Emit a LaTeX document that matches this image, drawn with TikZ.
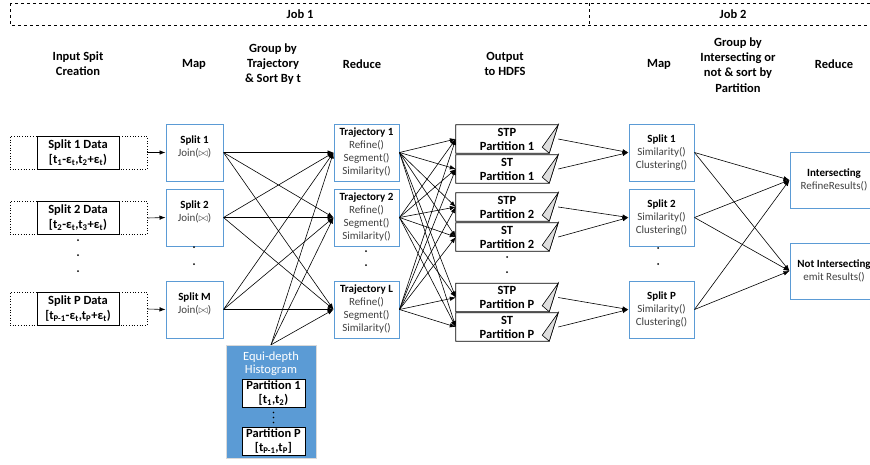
\documentclass[tikz,border=0pt]{standalone}
\usepackage{fontspec}
\setmainfont{Carlito}
\usetikzlibrary{arrows.meta,positioning,calc}

\definecolor{boxblue}{RGB}{91,155,213}
\definecolor{histblue}{RGB}{91,155,213}
\definecolor{txtgray}{RGB}{64,64,64}

\newcommand{\boxtitle}[1]{{\color{black}\bfseries #1}}

\tikzset{
  every node/.style={font=\fontsize{11}{13}\selectfont},
  head/.style={font=\fontsize{12.5}{15.3}\selectfont\bfseries, align=center},
  bluebox/.style={draw=boxblue, line width=1pt, minimum height=57pt, align=center, text=txtgray, inner sep=1pt},
  splitbox/.style={draw, line width=0.7pt, minimum width=82pt, minimum height=33pt, align=center,
    font=\fontsize{12.5}{15}\selectfont\bfseries, inner sep=0pt},
  outerbox/.style={draw, dotted, line width=0.7pt, minimum width=137pt, minimum height=33pt},
  filebox/.style={minimum width=102pt, minimum height=28pt, align=center, inner sep=0pt,
    font=\fontsize{12.5}{14}\selectfont\bfseries},
  partbox/.style={draw, fill=white, minimum width=63pt, minimum height=28pt, align=center, inner sep=0pt,
    font=\fontsize{12.5}{14}\selectfont\bfseries},
  arr/.style={-{Latex[length=6pt,width=4.5pt]}, line width=0.6pt},
}

\begin{document}
\begin{tikzpicture}[x=1pt,y=-1pt]
\useasboundingbox (0,0) rectangle (870,464);

% job header
\draw[dashed, line width=0.6pt] (10,3) rectangle (880,25);
\draw[dashed, line width=0.6pt] (589,3) -- (589,25);
\node[head] (job1) at (300,14) {Job 1};
\node[head] (job2) at (733,14) {Job 2};

% column titles
\node[head] (hInput) at (78,64) {Input Spit\\Creation};
\node[head] (hMap1) at (194,64) {Map};
\node[head] (hGroup1) at (273,64) {Group by\\Trajectory\\\& Sort By t};
\node[head] (hRed1) at (362,64) {Reduce};
\node[head] (hOut) at (505,64) {Output\\to HDFS};
\node[head] (hMap2) at (659,64) {Map};
\node[head] (hGroup2) at (738,65) {Group by\\Intersecting or\\not \& sort by\\Partition};
\node[head] (hRed2) at (834,64) {Reduce};

% input splits
\node[outerbox] (o1) at (78.5,152.5) {};
\node[outerbox] (o2) at (78.5,218) {};
\node[outerbox] (oP) at (78.5,309) {};
\node[splitbox] (s1) at (78,152.5) {Split 1 Data\\{[t\textsubscript{1}-ε\textsubscript{t},t\textsubscript{2}+ε\textsubscript{t})}};
\node[splitbox] (s2) at (78,218) {Split 2 Data\\{[t\textsubscript{2}-ε\textsubscript{t},t\textsubscript{3}+ε\textsubscript{t})}};
\node[splitbox] (sP) at (78,309) {Split P Data\\{[t\textsubscript{P-1}-ε\textsubscript{t},t\textsubscript{P}+ε\textsubscript{t})}};
\foreach \y in {240,255,271} \fill (78,\y) circle (1);

% job 1 map
\node[bluebox, minimum width=57pt] (m1) at (194.5,152.5) {\boxtitle{Split 1}\\Join($\bowtie$)\\\mbox{}};
\node[bluebox, minimum width=57pt] (m2) at (194.5,217.5) {\boxtitle{Split 2}\\Join($\bowtie$)\\\mbox{}};
\node[bluebox, minimum width=57pt] (mM) at (194.5,309.5) {\boxtitle{Split M}\\Join($\bowtie$)\\\mbox{}};
\foreach \y in {247,264} \fill (194,\y) circle (1);

% job 1 reduce
\node[bluebox, minimum width=65pt] (r1) at (366.5,152.5) {\boxtitle{Trajectory 1}\\Refine()\\Segment()\\Similarity()};
\node[bluebox, minimum width=65pt] (r2) at (366.5,217.5) {\boxtitle{Trajectory 2}\\Refine()\\Segment()\\Similarity()};
\node[bluebox, minimum width=65pt] (rL) at (366.5,309.5) {\boxtitle{Trajectory L}\\Refine()\\Segment()\\Similarity()};
\foreach \y in {251,265} \fill (366,\y) circle (1);

% histogram
\node[fill=histblue, draw=gray!30, minimum width=90pt, minimum height=113pt] (hist) at (271,401.5) {};
\node[text=white, align=center, font=\fontsize{12.5}{13}\selectfont] (histlbl) at (271,363.5) {Equi-depth\\Histogram};
\node[partbox] (p1) at (273.5,393) {Partition 1\\{[t\textsubscript{1},t\textsubscript{2})}};
\node[partbox] (pP) at (273.5,441.5) {Partition P\\{[t\textsubscript{P-1},t\textsubscript{P}]}};
\foreach \y in {412.5,417.5,422.5} \fill (273.5,\y) circle (0.9);

% output files
\node[filebox] (stp1) at (507,139) {STP\\Partition 1};
\node[filebox] (st1) at (507,169) {ST\\Partition 1};
\node[filebox] (stp2) at (507,207) {STP\\Partition 2};
\node[filebox] (st2) at (507,237) {ST\\Partition 2};
\node[filebox] (stpP) at (507,297.5) {STP\\Partition P};
\node[filebox] (stP) at (507,327) {ST\\Partition P};
\foreach \f in {stp1,st1,stp2,st2,stpP,stP} {
  \draw[line width=0.7pt] (\f.north west) -- (\f.north east) -- ([xshift=-9pt]\f.south east) -- (\f.south west) -- cycle;
  \draw[line width=0.6pt, fill=gray!25] (\f.north east) -- ([xshift=-9pt]\f.south east) -- ([xshift=-16pt,yshift=6pt]\f.south east) -- cycle;
}
\foreach \y in {257,272} \fill (507,\y) circle (1);

% job 2 map
\node[bluebox, minimum width=65pt] (n1) at (661.5,152.5) {\boxtitle{Split 1}\\Similarity()\\Clustering()};
\node[bluebox, minimum width=65pt] (n2) at (661.5,217.5) {\boxtitle{Split 2}\\Similarity()\\Clustering()};
\node[bluebox, minimum width=65pt] (nP) at (661.5,309.5) {\boxtitle{Split P}\\Similarity()\\Clustering()};
\foreach \y in {248,264} \fill (658,\y) circle (1);

% job 2 reduce
\node[bluebox, minimum width=88pt, minimum height=56pt] (inter) at (834,180) {\boxtitle{Intersecting}\\RefineResults()};
\node[bluebox, minimum width=88pt, minimum height=56pt] (notinter) at (834,271) {\boxtitle{Not Intersecting}\\emit Results()};

% connectors
\draw[arr] (o1.east) -- (m1.west);
\draw[arr] (o2.east) -- (m2.west);
\draw[arr] (oP.east) -- (mM.west);
\foreach \m in {m1,m2,mM}
  \foreach \r in {r1,r2,rL}
    \draw[arr] (\m.east) -- (\r.west);
\foreach \r in {r1,r2,rL}
  \draw[arr] (hist.north) -- (\r.west);
\foreach \r in {r1,r2,rL}
  \foreach \f in {stp1,st1,stp2,st2,stpP,stP}
    \draw[arr] (\r.east) -- (\f.west);
\draw[arr] (stp1.east) -- (n1.west);
\draw[arr] (st1.east) -- (n1.west);
\draw[arr] (stp2.east) -- (n2.west);
\draw[arr] (st2.east) -- (n2.west);
\draw[arr] (stpP.east) -- (nP.west);
\draw[arr] (stP.east) -- (nP.west);
\foreach \n in {n1,n2,nP}
  \foreach \q in {inter,notinter}
    \draw[arr] (\n.east) -- (\q.west);
\end{tikzpicture}
\end{document}
